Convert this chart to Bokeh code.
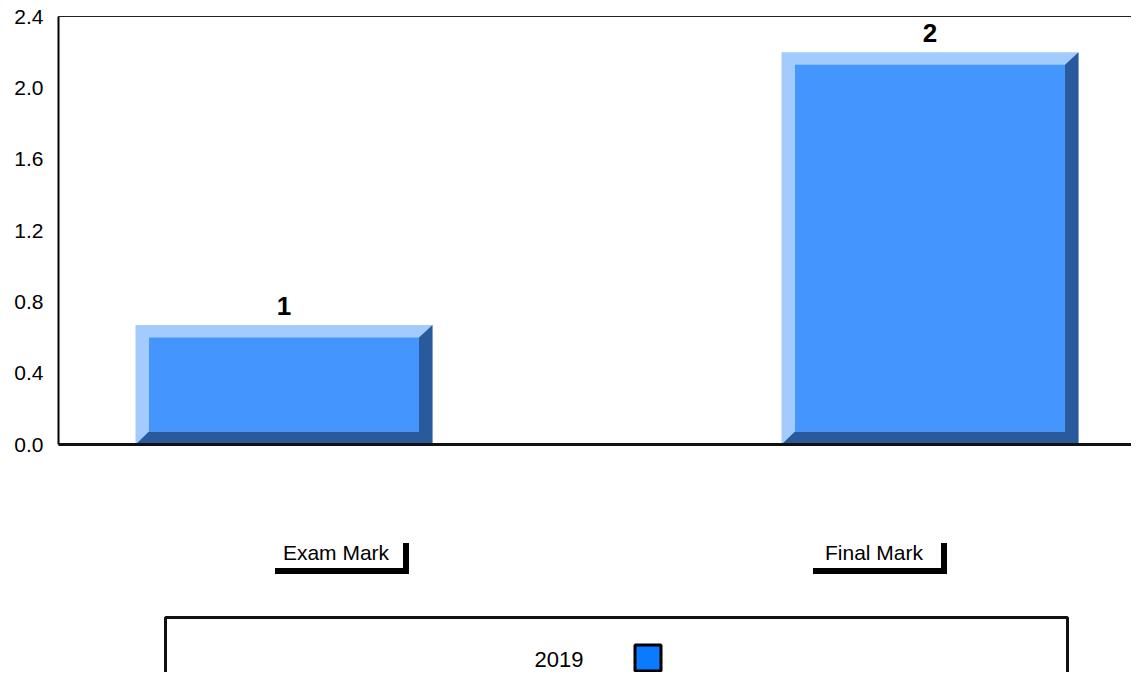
from bokeh.plotting import figure
from bokeh.models import Range1d, LinearAxis, FixedTicker, PrintfTickFormatter
from bokeh.core.properties import value
from bokeh.embed import file_html
from bokeh.resources import INLINE

# ---- data ----
categories = ["Exam Mark", "Final Mark"]
series_name = "2019"
values_2019 = [0.67, 2.2]
y_ticks = [0.0, 0.4, 0.8, 1.2, 1.6, 2.0, 2.4]

# ---- layout helpers (canvas pixels <-> data) ----
W, H = 1131, 672
PX_X = 646.0      # pixels per category step
PX_Y = 178.333    # pixels per value unit
X0 = 283.5        # canvas x of first category centre
Y0 = 444.0        # canvas y of value 0
AXIS_X = 58       # canvas x of the value axis


def cx(px):
    return (px - X0) / PX_X


def cy(py):
    return (Y0 - py) / PX_Y


FONT = "Liberation Sans"

p = figure(width=W, height=H, x_range=Range1d(cx(0), cx(W)), y_range=Range1d(cy(H), cy(0)),
           output_backend="svg", toolbar_location=None, x_axis_type=None, y_axis_type=None,
           min_border=0, outline_line_color=None)
p.background_fill_color = "white"
p.border_fill_color = "white"

# axes
yaxis = LinearAxis(fixed_location=cx(AXIS_X), bounds=(0, y_ticks[-1]), ticker=FixedTicker(ticks=y_ticks),
                   formatter=PrintfTickFormatter(format="%.1f"))
yaxis.major_tick_in = 0
yaxis.major_tick_out = 0
yaxis.minor_tick_in = 0
yaxis.minor_tick_out = 0
yaxis.axis_line_width = 2
yaxis.axis_line_color = "black"
yaxis.major_label_standoff = 15
yaxis.major_label_text_font = FONT
yaxis.major_label_text_font_size = "21px"
yaxis.major_label_text_color = "black"
p.add_layout(yaxis, "left")

xaxis = LinearAxis(fixed_location=0, bounds=(cx(AXIS_X), cx(W)), ticker=FixedTicker(ticks=[]))
xaxis.axis_line_width = 3
xaxis.axis_line_color = "#111111"
xaxis.major_tick_in = 0
xaxis.major_tick_out = 0
p.add_layout(xaxis, "below")

topaxis = LinearAxis(fixed_location=y_ticks[-1], bounds=(cx(AXIS_X), cx(W)), ticker=FixedTicker(ticks=[]))
topaxis.axis_line_width = 1
topaxis.axis_line_color = "#222222"
topaxis.major_tick_in = 0
topaxis.major_tick_out = 0
p.add_layout(topaxis, "above")

# bevelled bars
idx = list(range(len(categories)))
bw = 297 / PX_X
bx = 13.5 / PX_X
by_top = 12.5 / PX_Y
by_bot = 13.0 / PX_Y

p.vbar(x=idx, top=values_2019, bottom=0, width=bw, fill_color="#A3CBFE", line_color=None)
dark_xs, dark_ys = [], []
for i, v in zip(idx, values_2019):
    L, R = i - bw / 2, i + bw / 2
    dark_xs.append([R, R - bx, R - bx, L + bx, L, R])
    dark_ys.append([v, v - by_top, by_bot, by_bot, 0, 0])
p.patches(xs=dark_xs, ys=dark_ys, fill_color="#295B9C", line_color=None)
p.vbar(x=idx, top=[v - by_top for v in values_2019], bottom=by_bot, width=bw - 2 * bx,
       fill_color="#4595FF", line_color=None)

# value labels
p.text(x=idx, y=values_2019, text=[f"{v:.0f}" for v in values_2019], y_offset=-10,
       text_align="center", text_baseline="bottom", text_font=value(FONT),
       text_font_size="26px", text_font_style="bold", text_color="black")

# category labels with shadow boxes
label_offsets_px = [52, -56]
lab_x = [i + o / PX_X for i, o in zip(idx, label_offsets_px)]
lab_y = [cy(552)] * len(categories)
p.rect(x=[x + 6 / PX_X for x in lab_x], y=[y - 6 / PX_Y for y in lab_y], width=134, height=31,
       width_units="screen", height_units="screen", fill_color="black", line_color=None)
p.rect(x=lab_x, y=lab_y, width=134, height=31, width_units="screen", height_units="screen",
       fill_color="white", line_color=None)
p.text(x=lab_x, y=lab_y, text=categories, text_align="center", text_baseline="middle",
       text_font=value(FONT), text_font_size="21px", text_color="black")

# legend
p.rect(x=[cx(616)], y=[cy(687)], width=902, height=140, width_units="screen", height_units="screen",
       fill_color="white", line_color="#111111", line_width=3)
p.text(x=[cx(583)], y=[cy(659)], text=[series_name], text_align="right", text_baseline="middle",
       text_font=value(FONT), text_font_size="22px", text_color="black")
p.rect(x=[cx(647.5)], y=[cy(657.5)], width=26, height=26, width_units="screen", height_units="screen",
       fill_color="#0A7BFF", line_color="black", line_width=3)

open("out.html", "w").write(file_html(p, INLINE))
